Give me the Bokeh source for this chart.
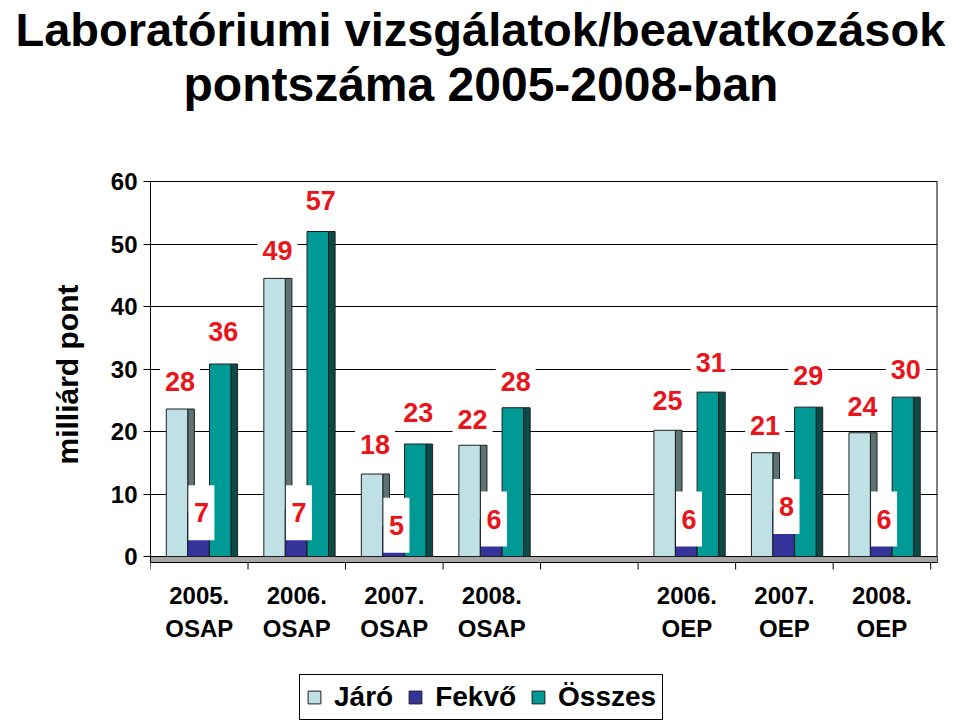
from bokeh.plotting import figure
from bokeh.models import Range1d, FixedTicker, Legend, LegendItem, Title, ColumnDataSource
from bokeh.embed import file_html
from bokeh.resources import INLINE
from bokeh.core.properties import value

# ---------------- data ----------------
categories = ["2005.\nOSAP", "2006.\nOSAP", "2007.\nOSAP", "2008.\nOSAP", "",
              "2006.\nOEP", "2007.\nOEP", "2008.\nOEP"]
data_categories = ["2005.\nOSAP", "2006.\nOSAP", "2007.\nOSAP", "2008.\nOSAP",
                   "2006.\nOEP", "2007.\nOEP", "2008.\nOEP"]
series_names = ["Járó", "Fekvő", "Összes"]

# bar heights as drawn in the picture
jaro_bar = [23.6, 44.5, 13.2, 17.8, 20.2, 16.6, 19.8]
fekvo_bar = [6.9, 7.5, 4.8, 6.0, 6.1, 7.3, 5.8]
osszes_bar = [30.8, 52.0, 18.0, 23.8, 26.3, 23.9, 25.5]

# value labels printed on the chart
jaro_label = [28, 49, 18, 22, 25, 21, 24]
fekvo_label = [7, 7, 5, 6, 6, 8, 6]
osszes_label = [36, 57, 23, 28, 31, 29, 30]

y_ticks = [0, 10, 20, 30, 40, 50, 60]

title_line1 = "Laboratóriumi vizsgálatok/beavatkozások"
title_line2 = "pontszáma 2005-2008-ban"
y_title = "milliárd pont"

# ---------------- styles ----------------
FONT = "Liberation Sans"
RED = "#e8151b"
EDGE = "#1e1e1e"
front_colors = ["#bfe1e5", "#333399", "#009a96"]
side_colors = ["#5e7373", "#1c1c66", "#0c4a47"]
offsets = [-0.228, -0.008, 0.215]
BAR_W = 0.22
SIDE_W = 0.068
LBL_DX = 0.03
FLOOR = -0.96          # depth of the floor slab (axis units)
TICK_LEN = 1.12        # category tick length (axis units)
CAT_Y1 = -6.2          # first line of category labels (axis units)
CAT_Y2 = -11.5         # second line of category labels (axis units)

n_cat = len(categories)
xs = [categories.index(c) for c in data_categories]

p = figure(frame_width=787, frame_height=542,
           x_range=Range1d(-0.5, n_cat - 0.5 + 0.07),
           y_range=Range1d(-26.56, 60.16),
           x_axis_location=None,
           output_backend="svg", toolbar_location=None,
           min_border_left=150, min_border_right=23,
           min_border_top=179, min_border_bottom=0)
p.background_fill_color = "white"
p.border_fill_color = "white"
p.outline_line_color = None

# titles: p.title is outermost; items of p.above go outward from the frame
p.title.text = title_line1
p.title.align = "left"
p.title.offset = -135
p.title.text_font = FONT
p.title.text_font_size = "47px"
p.title.text_font_style = "bold"
p.title.text_color = "black"
p.title.standoff = 0
spacer = Title(text=" ", align="left", text_font_size="2px", standoff=66)
p.add_layout(spacer, "above")
t2 = Title(text=title_line2, align="left", offset=33, text_font=FONT,
           text_font_size="48px", text_font_style="bold", text_color="black",
           standoff=0)
p.add_layout(t2, "above")

# y axis title, placed beside the 0..60 part of the axis
ytitle = Title(text=y_title, align="left", offset=258, text_font=FONT,
               text_font_size="30px", text_font_style="bold", text_color="black",
               standoff=48)
p.add_layout(ytitle, "left")

# right wall edge
p.segment(x0=[p.x_range.end], y0=[FLOOR], x1=[p.x_range.end], y1=[y_ticks[-1]],
          line_color="black", line_width=2)

# floor
p.quad(left=[p.x_range.start], right=[p.x_range.end], bottom=[FLOOR], top=[0],
       fill_color="#a6a6a6", line_color="black", line_width=1)

# category ticks (at the borders between categories) and labels
bounds = [i - 0.5 for i in range(n_cat + 1)]
p.segment(x0=bounds, y0=[FLOOR] * len(bounds), x1=bounds, y1=[FLOOR - TICK_LEN] * len(bounds),
          line_color="black", line_width=1)
lab_x = [i for i, c in enumerate(categories) if c]
lab_1 = [c.split("\n")[0] for c in categories if c]
lab_2 = [c.split("\n")[1] for c in categories if c]
p.text(x=lab_x, y=[CAT_Y1] * len(lab_x), text=lab_1, text_align="center",
       text_baseline="middle", text_font=value(FONT), text_font_size="24px",
       text_font_style="bold", text_color="black")
p.text(x=lab_x, y=[CAT_Y2] * len(lab_x), text=lab_2, text_align="center",
       text_baseline="middle", text_font=value(FONT), text_font_size="24px",
       text_font_style="bold", text_color="black")

series_bars = [jaro_bar, fekvo_bar, osszes_bar]
series_labels = [jaro_label, fekvo_label, osszes_label]

front_renderers = []
for k in range(3):
    cx = [x + offsets[k] for x in xs]
    vals = series_bars[k]
    side_src = ColumnDataSource(dict(
        left=[c + BAR_W / 2 for c in cx], right=[c + BAR_W / 2 + SIDE_W for c in cx],
        bottom=[0] * len(cx), top=vals))
    p.quad(left="left", right="right", bottom="bottom", top="top", source=side_src,
           fill_color=side_colors[k], line_color=EDGE, line_width=1)
    front_src = ColumnDataSource(dict(
        left=[c - BAR_W / 2 for c in cx], right=[c + BAR_W / 2 for c in cx],
        bottom=[0] * len(cx), top=vals))
    r = p.quad(left="left", right="right", bottom="bottom", top="top", source=front_src,
               fill_color=front_colors[k], line_color=EDGE, line_width=1)
    front_renderers.append(r)

# label boxes and labels
for k in range(3):
    lx = [x + offsets[k] + LBL_DX for x in xs]
    ly = series_labels[k]
    if k == 1:
        bw, bh = 26, 55
    else:
        bw, bh = 40, 30
    p.rect(x=lx, y=ly, width=bw, height=bh, width_units="screen", height_units="screen",
           fill_color="white", line_color=None)
    p.text(x=lx, y=ly, text=[str(v) for v in ly], text_align="center", text_baseline="middle",
           text_font=value(FONT), text_font_size="27px", text_font_style="bold",
           text_color=RED)

# legend
leg_items = [LegendItem(label=series_names[k], renderers=[front_renderers[k]]) for k in range(3)]
legend = Legend(items=leg_items, orientation="horizontal", location=(149, 2),
                label_text_font=FONT, label_text_font_size="28px", label_text_font_style="bold",
                label_text_color="black",
                glyph_width=16, glyph_height=16, label_standoff=12, spacing=14,
                padding=6, margin=0, border_line_color="black", border_line_width=1,
                border_line_alpha=1.0,
                background_fill_color="white", background_fill_alpha=1.0, label_height=32)
p.add_layout(legend, "center")

# y axis
p.yaxis.ticker = FixedTicker(ticks=y_ticks)
p.yaxis.bounds = (FLOOR, y_ticks[-1])
p.yaxis.major_label_text_font = FONT
p.yaxis.major_label_text_font_size = "24px"
p.yaxis.major_label_text_font_style = "bold"
p.yaxis.major_label_text_color = "black"
p.yaxis.major_tick_out = 7
p.yaxis.major_tick_in = 0
p.yaxis.minor_tick_line_color = None
p.yaxis.axis_line_color = "black"
p.yaxis.major_label_standoff = 6

p.xgrid.visible = False
p.ygrid.ticker = FixedTicker(ticks=y_ticks)
p.ygrid.grid_line_color = "black"
p.ygrid.grid_line_width = 1

open("out.html", "w").write(file_html(p, INLINE))
